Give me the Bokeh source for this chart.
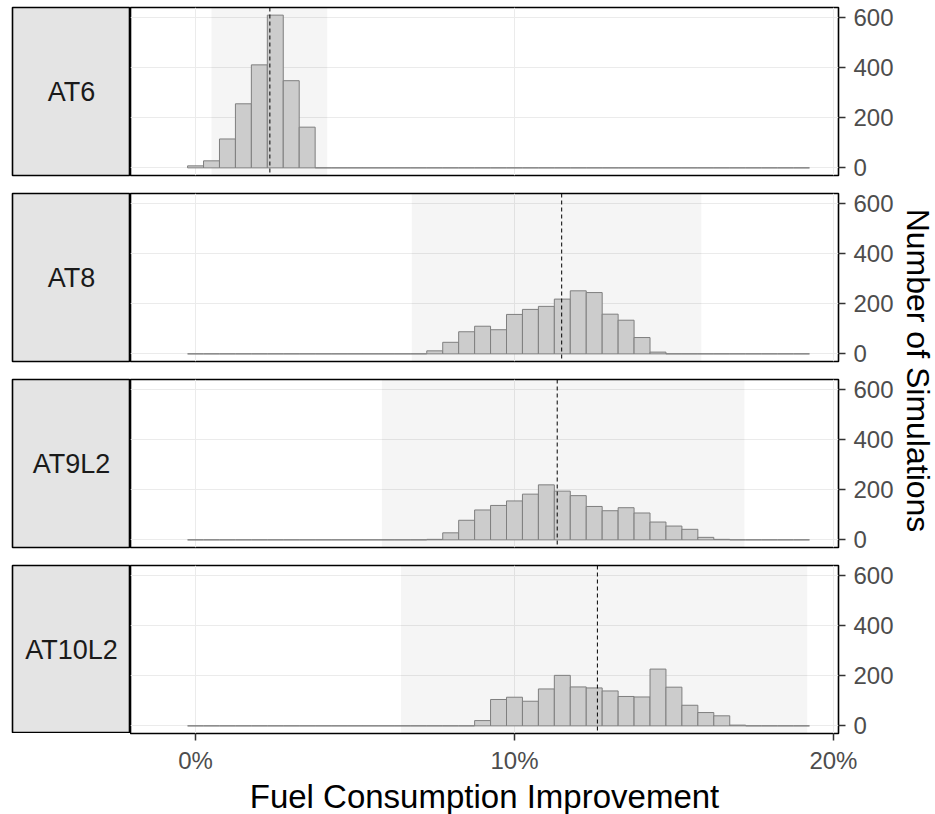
import math
from bokeh.plotting import figure
from bokeh.layouts import row, column
from bokeh.models import Range1d, Span, BoxAnnotation, Label, FixedTicker, ColumnDataSource
from bokeh.embed import file_html
from bokeh.resources import INLINE

FONT = "Liberation Sans"

# ---- data ----
panel_names = ["AT6", "AT8", "AT9L2", "AT10L2"]
bin_width = 0.5          # histogram bin width, in %
hist_first_center = 0.0  # first bin centre shared by all panels (%)
hist_last_center = 19.0  # last bin centre shared by all panels (%)

at6_start = 0.0
at6_counts = [8, 28, 115, 255, 410, 608, 347, 162]
at8_start = 7.5
at8_counts = [12, 46, 88, 110, 96, 157, 177, 189, 218, 251, 244, 158, 134, 65, 7]
at9l2_start = 7.5
at9l2_counts = [2, 28, 78, 119, 137, 155, 182, 219, 194, 176, 133, 116, 128, 107, 71, 55, 42, 10, 2]
at10l2_start = 9.0
at10l2_counts = [21, 105, 114, 98, 147, 201, 155, 151, 139, 117, 115, 226, 154, 82, 53, 40, 3]

means = [2.33, 11.48, 11.34, 12.60]      # dashed lines (%)
range_lo = [0.50, 6.78, 5.84, 6.44]      # shaded band start (%)
range_hi = [4.13, 15.86, 17.21, 19.18]   # shaded band end (%)

x_ticks = [0, 10, 20]
x_tick_labels = ["0%", "10%", "20%"]
y_ticks = [0, 200, 400, 600]

starts = [at6_start, at8_start, at9l2_start, at10l2_start]
counts = [at6_counts, at8_counts, at9l2_counts, at10l2_counts]

n_bins = int(round((hist_last_center - hist_first_center) / bin_width)) + 1
centers = [hist_first_center + k * bin_width for k in range(n_bins)]

FRAME_W, FRAME_H = 708, 168
TOP0 = 7
PAD = 9

rows = []
for i, name in enumerate(panel_names):
    first = i == 0
    last = i == len(panel_names) - 1
    full = [0] * n_bins
    s = int(round((starts[i] - hist_first_center) / bin_width))
    for k, c in enumerate(counts[i]):
        full[s + k] = c
    src = ColumnDataSource(dict(
        left=[c - bin_width / 2 for c in centers],
        right=[c + bin_width / 2 for c in centers],
        top=full,
        bottom=[0] * n_bins,
    ))

    mb_top = TOP0 if first else PAD
    mb_bot = 0 if last else PAD

    p = figure(x_range=Range1d(-2.04, 20.16), y_range=Range1d(-30.4, 638.4),
               frame_width=FRAME_W, frame_height=FRAME_H,
               output_backend="svg", toolbar_location=None,
               y_axis_location="right",
               min_border_left=0, min_border_right=0,
               min_border_top=mb_top, min_border_bottom=mb_bot)
    p.background_fill_color = "white"
    p.border_fill_color = "white"
    p.outline_line_color = "black"
    p.outline_line_width = 1.6

    p.xgrid.ticker = FixedTicker(ticks=x_ticks)
    p.ygrid.ticker = FixedTicker(ticks=y_ticks)
    p.xgrid.grid_line_color = "#ebebeb"
    p.ygrid.grid_line_color = "#ebebeb"
    p.xgrid.grid_line_width = 1
    p.ygrid.grid_line_width = 1

    band = BoxAnnotation(left=range_lo[i], right=range_hi[i], fill_color="black",
                         fill_alpha=0.04, line_color=None, level="underlay")
    p.add_layout(band)

    p.quad(left="left", right="right", top="top", bottom="bottom", source=src,
           fill_color="#cccccc", line_color="#7f7f7f", line_width=1)

    p.add_layout(Span(location=means[i], dimension="height", line_color="black",
                      line_dash="4 3", line_width=1))

    # y axis (right)
    p.yaxis.ticker = FixedTicker(ticks=y_ticks)
    p.yaxis.major_tick_out = 7
    p.yaxis.major_tick_in = 0
    p.yaxis.minor_tick_line_color = None
    p.yaxis.major_tick_line_color = "#333333"
    p.yaxis.major_tick_line_width = 1.5
    p.yaxis.axis_line_color = None
    p.yaxis.major_label_text_font = FONT
    p.yaxis.major_label_text_font_size = "24px"
    p.yaxis.major_label_text_color = "#4d4d4d"
    p.yaxis.major_label_standoff = 8

    # x axis
    p.xaxis.ticker = FixedTicker(ticks=x_ticks)
    if last:
        p.xaxis.major_label_overrides = {t: l for t, l in zip(x_ticks, x_tick_labels)}
        p.xaxis.major_tick_out = 7
        p.xaxis.major_tick_in = 0
        p.xaxis.minor_tick_line_color = None
        p.xaxis.major_tick_line_color = "#333333"
        p.xaxis.major_tick_line_width = 1.5
        p.xaxis.axis_line_color = None
        p.xaxis.major_label_text_font = FONT
        p.xaxis.major_label_text_font_size = "24px"
        p.xaxis.major_label_text_color = "#4d4d4d"
        p.xaxis.major_label_standoff = 6
        p.xaxis.axis_label = "Fuel Consumption Improvement"
        p.xaxis.axis_label_text_font = FONT
        p.xaxis.axis_label_text_font_size = "33px"
        p.xaxis.axis_label_text_font_style = "normal"
        p.xaxis.axis_label_text_color = "black"
        p.xaxis.axis_label_standoff = 1
    else:
        p.xaxis.visible = False

    # strip (facet label) on the left
    st = figure(x_range=Range1d(0, 1), y_range=Range1d(0, 1),
                frame_width=118, frame_height=FRAME_H,
                output_backend="svg", toolbar_location=None,
                min_border_left=12, min_border_right=0,
                min_border_top=mb_top, min_border_bottom=mb_bot)
    st.axis.visible = False
    st.grid.visible = False
    st.background_fill_color = "#e4e4e4"
    st.border_fill_color = "white"
    st.outline_line_color = "black"
    st.outline_line_width = 1.6
    st.add_layout(Label(x=0.5, y=0.5, text=name, text_align="center",
                        text_baseline="middle", text_font=FONT,
                        text_font_size="27px", text_color="#1a1a1a"))

    rows.append(row(st, p))

left = column(*rows)

TOTAL_H = 810
YL_W = 42
yl = figure(x_range=Range1d(0, YL_W), y_range=Range1d(0, TOTAL_H),
            width=YL_W, height=TOTAL_H, output_backend="svg", toolbar_location=None,
            min_border=0)
yl.axis.visible = False
yl.grid.visible = False
yl.outline_line_color = None
panels_center_from_top = TOP0 + (FRAME_H * 4 + PAD * 6) / 2.0
yl.add_layout(Label(x=21, y=TOTAL_H - panels_center_from_top, text="Number of Simulations",
                    angle=-math.pi / 2, text_align="center", text_baseline="middle",
                    text_font=FONT, text_font_size="32px", text_color="black"))

layout = row(left, yl)

open("out.html", "w").write(file_html(layout, INLINE))
